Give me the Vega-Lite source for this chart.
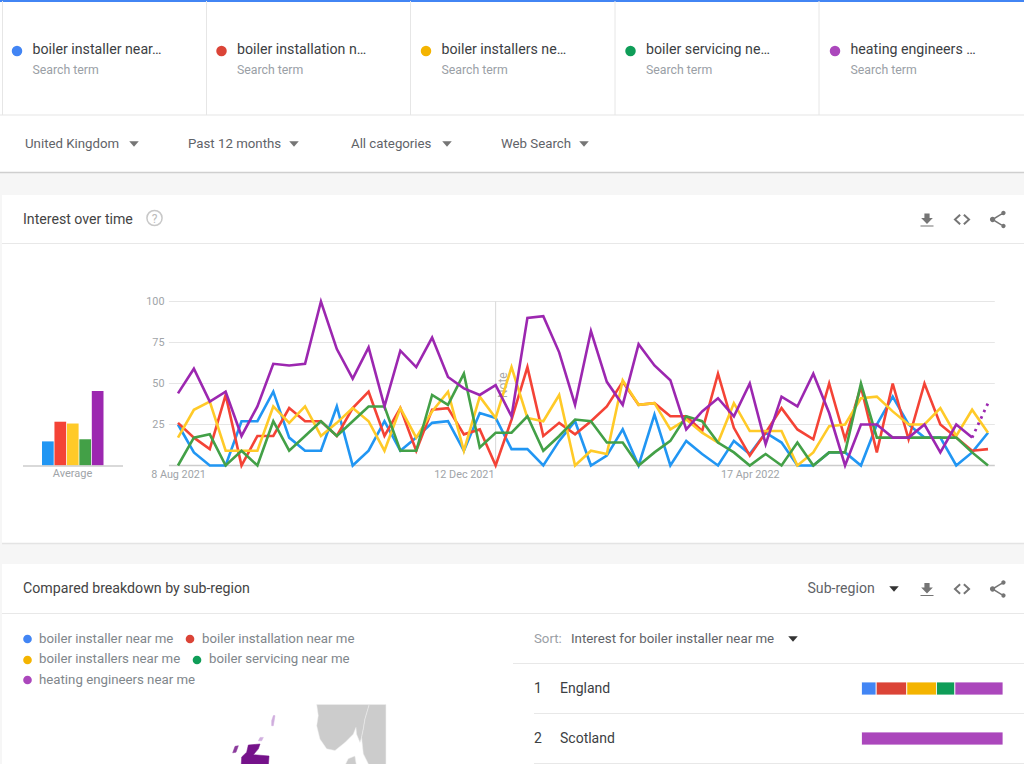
{
"$schema":"https://vega.github.io/schema/vega-lite/v6.json",
"width":1024,"height":764,"padding":0,"autosize":{"type":"none"},
"background":"#f6f6f6",
"config":{"view":{"stroke":null},"font":"Roboto","text":{"font":"Roboto"}},
"datasets":{
"one":[{"item":"page"}],
"terms":[
{"term":"boiler installer near me","short":"boiler installer near…"},
{"term":"boiler installation near me","short":"boiler installation n…"},
{"term":"boiler installers near me","short":"boiler installers ne…"},
{"term":"boiler servicing near me","short":"boiler servicing ne…"},
{"term":"heating engineers near me","short":"heating engineers …"}],
"avg":[
{"term":"boiler installer near me","average":14.7},
{"term":"boiler installation near me","average":26.7},
{"term":"boiler installers near me","average":25.6},
{"term":"boiler servicing near me","average":16},
{"term":"heating engineers near me","average":45.5}],
"regions":[
{"region":"England","rank":1,"term":"boiler installer near me","share":10.4},
{"region":"England","rank":2,"term":"boiler installation near me","share":21.6},
{"region":"England","rank":3,"term":"boiler installers near me","share":21},
{"region":"England","rank":4,"term":"boiler servicing near me","share":13},
{"region":"England","rank":5,"term":"heating engineers near me","share":34},
{"region":"Scotland","rank":5,"term":"heating engineers near me","share":100}],
"weeks":[
{"week":"2021-08-08","installer":25,"installation":26,"installers":17,"servicing":0,"heating":44},
{"week":"2021-08-15","installer":8,"installation":17,"installers":34,"servicing":17,"heating":59},
{"week":"2021-08-22","installer":0,"installation":10,"installers":39,"servicing":19,"heating":39},
{"week":"2021-08-29","installer":0,"installation":43,"installers":9,"servicing":0,"heating":45},
{"week":"2021-09-05","installer":27,"installation":0,"installers":9,"servicing":9,"heating":18},
{"week":"2021-09-12","installer":27,"installation":18,"installers":9,"servicing":0,"heating":36},
{"week":"2021-09-19","installer":45,"installation":18,"installers":36,"servicing":27,"heating":62},
{"week":"2021-09-26","installer":17,"installation":35,"installers":26,"servicing":9,"heating":61},
{"week":"2021-10-03","installer":9,"installation":27,"installers":36,"servicing":18,"heating":62},
{"week":"2021-10-10","installer":9,"installation":27,"installers":18,"servicing":27,"heating":100},
{"week":"2021-10-17","installer":36,"installation":18,"installers":26,"servicing":18,"heating":71},
{"week":"2021-10-24","installer":0,"installation":35,"installers":35,"servicing":27,"heating":53},
{"week":"2021-10-31","installer":9,"installation":45,"installers":27,"servicing":36,"heating":72},
{"week":"2021-11-07","installer":27,"installation":18,"installers":9,"servicing":36,"heating":36},
{"week":"2021-11-14","installer":9,"installation":35,"installers":35,"servicing":9,"heating":70},
{"week":"2021-11-21","installer":17,"installation":9,"installers":17,"servicing":9,"heating":60},
{"week":"2021-11-28","installer":26,"installation":34,"installers":33,"servicing":43,"heating":78},
{"week":"2021-12-05","installer":27,"installation":35,"installers":45,"servicing":37,"heating":54},
{"week":"2021-12-12","installer":9,"installation":19,"installers":9,"servicing":56,"heating":47},
{"week":"2021-12-19","installer":32,"installation":22,"installers":42,"servicing":11,"heating":43},
{"week":"2021-12-26","installer":29,"installation":0,"installers":29,"servicing":20,"heating":49},
{"week":"2022-01-02","installer":10,"installation":28,"installers":60,"servicing":20,"heating":30},
{"week":"2022-01-09","installer":10,"installation":60,"installers":29,"servicing":30,"heating":90},
{"week":"2022-01-16","installer":0,"installation":18,"installers":27,"servicing":9,"heating":91},
{"week":"2022-01-23","installer":15,"installation":26,"installers":43,"servicing":18,"heating":69},
{"week":"2022-01-30","installer":27,"installation":19,"installers":0,"servicing":28,"heating":37},
{"week":"2022-02-06","installer":0,"installation":27,"installers":9,"servicing":27,"heating":82},
{"week":"2022-02-13","installer":6,"installation":36,"installers":7,"servicing":14,"heating":51},
{"week":"2022-02-20","installer":22,"installation":51,"installers":52,"servicing":14,"heating":37},
{"week":"2022-02-27","installer":0,"installation":37,"installers":37,"servicing":0,"heating":74},
{"week":"2022-03-06","installer":31,"installation":38,"installers":38,"servicing":8,"heating":61},
{"week":"2022-03-13","installer":0,"installation":30,"installers":22,"servicing":15,"heating":52},
{"week":"2022-03-20","installer":15,"installation":30,"installers":28,"servicing":30,"heating":22},
{"week":"2022-03-27","installer":7,"installation":21,"installers":20,"servicing":27,"heating":33},
{"week":"2022-04-03","installer":0,"installation":56,"installers":14,"servicing":14,"heating":41},
{"week":"2022-04-10","installer":15,"installation":23,"installers":38,"servicing":8,"heating":30},
{"week":"2022-04-17","installer":7,"installation":6,"installers":21,"servicing":0,"heating":50},
{"week":"2022-04-24","installer":20,"installation":20,"installers":21,"servicing":7,"heating":13},
{"week":"2022-05-01","installer":14,"installation":35,"installers":21,"servicing":0,"heating":42},
{"week":"2022-05-08","installer":0,"installation":22,"installers":0,"servicing":14,"heating":36},
{"week":"2022-05-15","installer":0,"installation":16,"installers":8,"servicing":0,"heating":56},
{"week":"2022-05-22","installer":8,"installation":50,"installers":24,"servicing":8,"heating":32},
{"week":"2022-05-29","installer":8,"installation":16,"installers":25,"servicing":8,"heating":0},
{"week":"2022-06-05","installer":0,"installation":48,"installers":41,"servicing":50,"heating":25},
{"week":"2022-06-12","installer":25,"installation":8,"installers":42,"servicing":17,"heating":25},
{"week":"2022-06-19","installer":42,"installation":50,"installers":33,"servicing":17,"heating":17},
{"week":"2022-06-26","installer":25,"installation":16,"installers":25,"servicing":17,"heating":17},
{"week":"2022-07-03","installer":17,"installation":50,"installers":25,"servicing":17,"heating":25},
{"week":"2022-07-10","installer":17,"installation":25,"installers":35,"servicing":17,"heating":8},
{"week":"2022-07-17","installer":0,"installation":17,"installers":18,"servicing":17,"heating":25},
{"week":"2022-07-24","installer":8,"installation":9,"installers":34,"servicing":8,"heating":17},
{"week":"2022-07-31","installer":20,"installation":10,"installers":20,"servicing":0,"heating":38}]
},
"resolve":{"scale":{"x":"independent","y":"independent","color":"independent"},"axis":{"x":"independent","y":"independent"}},
"layer":[
{"data":{"name":"one"},"mark":{"type":"rect","color":"white"},"encoding":{"x":{"value":0},"x2":{"value":1024},"y":{"value":1},"y2":{"value":172}}},
{"data":{"name":"one"},"mark":{"type":"rect","color":"white"},"encoding":{"x":{"value":2},"x2":{"value":1024},"y":{"value":195},"y2":{"value":543}}},
{"data":{"name":"one"},"mark":{"type":"rect","color":"white"},"encoding":{"x":{"value":2},"x2":{"value":1024},"y":{"value":564},"y2":{"value":764}}},
{"data":{"name":"one"},"mark":{"type":"rule","color":"#4285f4","strokeWidth":2},"encoding":{"x":{"value":0},"x2":{"value":1024},"y":{"value":1}}},
{"data":{"name":"one"},"mark":{"type":"rule","color":"#eeeeee","strokeWidth":1.5},"encoding":{"x":{"value":0},"x2":{"value":1024},"y":{"value":115}}},
{"data":{"name":"one"},"mark":{"type":"rule","color":"#cfcfcf","strokeWidth":1.5},"encoding":{"x":{"value":0},"x2":{"value":1024},"y":{"value":172.5}}},
{"data":{"name":"one"},"mark":{"type":"rule","color":"#e8e8e8","strokeWidth":1},"encoding":{"x":{"value":2},"x2":{"value":1024},"y":{"value":243.5}}},
{"data":{"name":"one"},"mark":{"type":"rule","color":"#e4e4e4","strokeWidth":1.5},"encoding":{"x":{"value":2},"x2":{"value":1024},"y":{"value":543.5}}},
{"data":{"name":"one"},"mark":{"type":"rule","color":"#e8e8e8","strokeWidth":1},"encoding":{"x":{"value":2},"x2":{"value":1024},"y":{"value":613.5}}},
{"data":{"name":"one"},"mark":{"type":"rule","color":"#e8e8e8","strokeWidth":1},"encoding":{"x":{"value":513},"x2":{"value":1024},"y":{"value":663.5}}},
{"data":{"name":"one"},"mark":{"type":"rule","color":"#e8e8e8","strokeWidth":1},"encoding":{"x":{"value":534},"x2":{"value":1024},"y":{"value":713.5}}},
{"data":{"name":"one"},"mark":{"type":"rule","color":"#e8e8e8","strokeWidth":1},"encoding":{"x":{"value":534},"x2":{"value":1024},"y":{"value":763.5}}},
{"data":{"name":"one"},"mark":{"type":"rule","color":"#e6e6e6","strokeWidth":1},"encoding":{"x":{"value":2.5},"y":{"value":1},"y2":{"value":115}}},
{"data":{"name":"one"},"mark":{"type":"rule","color":"#e6e6e6","strokeWidth":1},"encoding":{"x":{"value":206.5},"y":{"value":1},"y2":{"value":115}}},
{"data":{"name":"one"},"mark":{"type":"rule","color":"#e6e6e6","strokeWidth":1},"encoding":{"x":{"value":410.5},"y":{"value":1},"y2":{"value":115}}},
{"data":{"name":"one"},"mark":{"type":"rule","color":"#e6e6e6","strokeWidth":1},"encoding":{"x":{"value":615},"y":{"value":1},"y2":{"value":115}}},
{"data":{"name":"one"},"mark":{"type":"rule","color":"#e6e6e6","strokeWidth":1},"encoding":{"x":{"value":819},"y":{"value":1},"y2":{"value":115}}},
{"data":{"name":"terms"},
 "encoding":{"x":{"field":"term","type":"nominal","axis":null,"sort":null,"scale":{"type":"point","range":[17,835],"padding":0}}},
 "layer":[
 {"mark":{"type":"point","filled":true,"opacity":1,"size":110},"encoding":{"y":{"value":51},"color":{"field":"term","type":"nominal","legend":null,"sort":null,"scale":{"range":["#4285f4","#db4437","#f4b400","#0f9d58","#ab47bc"]}}}},
 {"mark":{"type":"text","align":"left","baseline":"alphabetic","xOffset":15.5,"fontSize":14.2,"color":"#3c4043"},"encoding":{"y":{"value":54},"text":{"field":"short"}}},
 {"mark":{"type":"text","align":"left","baseline":"alphabetic","xOffset":15.5,"fontSize":12.3,"color":"#9aa0a6","text":"Search term"},"encoding":{"y":{"value":73.5}}}
 ]},
{"data":{"name":"one"},"mark":{"type":"text","align":"left","baseline":"alphabetic","fontSize":13.25,"color":"#5f6368","text":"United Kingdom"},"encoding":{"x":{"value":25},"y":{"value":148}}},
{"data":{"name":"one"},"mark":{"type":"text","align":"left","baseline":"alphabetic","fontSize":13.25,"color":"#5f6368","text":"Past 12 months"},"encoding":{"x":{"value":188},"y":{"value":148}}},
{"data":{"name":"one"},"mark":{"type":"text","align":"left","baseline":"alphabetic","fontSize":13.25,"color":"#5f6368","text":"All categories"},"encoding":{"x":{"value":351},"y":{"value":148}}},
{"data":{"name":"one"},"mark":{"type":"text","align":"left","baseline":"alphabetic","fontSize":13.25,"color":"#5f6368","text":"Web Search"},"encoding":{"x":{"value":501},"y":{"value":148}}},
{"data":{"name":"one"},"mark":{"type":"point","shape":"M-0.5,-0.28L0.5,-0.28L0,0.28Z","filled":true,"opacity":1,"strokeWidth":0,"size":361,"color":"#757575"},"encoding":{"x":{"value":134},"y":{"value":144}}},
{"data":{"name":"one"},"mark":{"type":"point","shape":"M-0.5,-0.28L0.5,-0.28L0,0.28Z","filled":true,"opacity":1,"strokeWidth":0,"size":361,"color":"#757575"},"encoding":{"x":{"value":294},"y":{"value":144}}},
{"data":{"name":"one"},"mark":{"type":"point","shape":"M-0.5,-0.28L0.5,-0.28L0,0.28Z","filled":true,"opacity":1,"strokeWidth":0,"size":361,"color":"#757575"},"encoding":{"x":{"value":447},"y":{"value":144}}},
{"data":{"name":"one"},"mark":{"type":"point","shape":"M-0.5,-0.28L0.5,-0.28L0,0.28Z","filled":true,"opacity":1,"strokeWidth":0,"size":361,"color":"#757575"},"encoding":{"x":{"value":584},"y":{"value":144}}},
{"data":{"name":"one"},"mark":{"type":"text","align":"left","baseline":"alphabetic","fontSize":14.15,"color":"#444444","text":"Interest over time"},"encoding":{"x":{"value":23},"y":{"value":224}}},
{"data":{"name":"one"},"mark":{"type":"point","filled":false,"opacity":1,"size":230,"color":"#c8c8c8","strokeWidth":1.5},"encoding":{"x":{"value":154.5},"y":{"value":218}}},
{"data":{"name":"one"},"mark":{"type":"text","align":"center","baseline":"middle","fontSize":12,"color":"#bbbbbb","text":"?"},"encoding":{"x":{"value":154.5},"y":{"value":218.5}}},
{"data":{"name":"one"},"mark":{"type":"point","shape":"M-0.2,-0.5H0.2V-0.15H0.45L0,0.3L-0.45,-0.15H-0.2Z M-0.5,0.42H0.5V0.5H-0.5Z","filled":true,"opacity":1,"strokeWidth":0,"size":676,"color":"#757575"},"encoding":{"x":{"value":927},"y":{"value":220}}},
{"data":{"name":"one"},"mark":{"type":"point","shape":"M-0.15,-0.32L-0.5,0L-0.15,0.32L-0.07,0.24L-0.33,0L-0.07,-0.24Z M0.15,-0.32L0.5,0L0.15,0.32L0.07,0.24L0.33,0L0.07,-0.24Z","filled":true,"opacity":1,"strokeWidth":0,"size":1156,"color":"#757575"},"encoding":{"x":{"value":962},"y":{"value":219.5}}},
{"data":{"name":"one"},"mark":{"type":"point","shape":"M0.35,-0.56A0.14,0.14 0 1 1 0.35,-0.28A0.14,0.14 0 1 1 0.35,-0.56Z M0.35,0.28A0.14,0.14 0 1 1 0.35,0.56A0.14,0.14 0 1 1 0.35,0.28Z M-0.35,-0.17A0.17,0.17 0 1 1 -0.35,0.17A0.17,0.17 0 1 1 -0.35,-0.17Z M-0.37,-0.05L0.33,-0.46L0.37,-0.38L-0.33,0.05Z M-0.33,-0.05L0.37,0.38L0.33,0.46L-0.37,0.05Z","filled":true,"opacity":1,"strokeWidth":0,"size":961,"color":"#757575"},"encoding":{"x":{"value":998},"y":{"value":219.5}}},
{"data":{"name":"one"},"mark":{"type":"point","shape":"M-0.2,-0.5H0.2V-0.15H0.45L0,0.3L-0.45,-0.15H-0.2Z M-0.5,0.42H0.5V0.5H-0.5Z","filled":true,"opacity":1,"strokeWidth":0,"size":676,"color":"#757575"},"encoding":{"x":{"value":927},"y":{"value":589.5}}},
{"data":{"name":"one"},"mark":{"type":"point","shape":"M-0.15,-0.32L-0.5,0L-0.15,0.32L-0.07,0.24L-0.33,0L-0.07,-0.24Z M0.15,-0.32L0.5,0L0.15,0.32L0.07,0.24L0.33,0L0.07,-0.24Z","filled":true,"opacity":1,"strokeWidth":0,"size":1156,"color":"#757575"},"encoding":{"x":{"value":962},"y":{"value":589}}},
{"data":{"name":"one"},"mark":{"type":"point","shape":"M0.35,-0.56A0.14,0.14 0 1 1 0.35,-0.28A0.14,0.14 0 1 1 0.35,-0.56Z M0.35,0.28A0.14,0.14 0 1 1 0.35,0.56A0.14,0.14 0 1 1 0.35,0.28Z M-0.35,-0.17A0.17,0.17 0 1 1 -0.35,0.17A0.17,0.17 0 1 1 -0.35,-0.17Z M-0.37,-0.05L0.33,-0.46L0.37,-0.38L-0.33,0.05Z M-0.33,-0.05L0.37,0.38L0.33,0.46L-0.37,0.05Z","filled":true,"opacity":1,"strokeWidth":0,"size":961,"color":"#757575"},"encoding":{"x":{"value":998},"y":{"value":589}}},
{"data":{"name":"weeks"},
 "encoding":{
  "x":{"field":"week","type":"temporal","title":null,"scale":{"type":"utc","domain":[{"year":2021,"month":8,"date":8,"utc":true},{"year":2022,"month":7,"date":31,"utc":true}],"range":[178,988]},
   "axis":{"orient":"bottom","offset":-298,"zindex":1,"domain":false,"ticks":false,"grid":false,"title":null,"format":"%-d %b %Y","labelFont":"Roboto","labelFontSize":10.8,"labelColor":"#a0a4a8","labelPadding":2,"labelOverlap":false,"labelFlush":false,
    "values":[{"year":2021,"month":8,"date":8,"utc":true},{"year":2021,"month":12,"date":12,"utc":true},{"year":2022,"month":4,"date":17,"utc":true}]}},
  "y":{"type":"quantitative","title":null,"scale":{"domain":[0,100],"range":[465.5,301.5]},
   "axis":{"orient":"left","offset":-164,"zindex":1,"domain":false,"ticks":false,"grid":false,"title":null,"values":[25,50,75,100],"labelFont":"Roboto","labelFontSize":10.8,"labelColor":"#a0a4a8","labelPadding":0}}
 },
 "layer":[
 {"data":{"values":[{"level":25,"from":"2021-08-04","to":"2022-08-03"},{"level":50,"from":"2021-08-04","to":"2022-08-03"},{"level":75,"from":"2021-08-04","to":"2022-08-03"},{"level":100,"from":"2021-08-04","to":"2022-08-03"}]},
  "mark":{"type":"rule","color":"#e6e6e6","strokeWidth":1},
  "encoding":{"x":{"field":"from","type":"temporal"},"x2":{"field":"to"},"y":{"field":"level","type":"quantitative"}}},
 {"data":{"values":[{"level":0,"from":"2021-08-04","to":"2022-08-03"}]},
  "mark":{"type":"rule","color":"#cccccc","strokeWidth":1.5},
  "encoding":{"x":{"field":"from","type":"temporal"},"x2":{"field":"to"},"y":{"field":"level","type":"quantitative"}}},
 {"data":{"values":[{"note":"2021-12-26","low":0,"high":100}]},
  "mark":{"type":"rule","color":"#d8d8d8","strokeWidth":1},
  "encoding":{"x":{"field":"note","type":"temporal"},"y":{"field":"low","type":"quantitative"},"y2":{"field":"high"}}},
 {"data":{"values":[{"note":"2021-12-26","at":49,"label":"Note"}]},
  "mark":{"type":"text","angle":270,"align":"center","baseline":"middle","xOffset":7,"fontSize":12,"color":"#a8a8a8"},
  "encoding":{"x":{"field":"note","type":"temporal"},"y":{"field":"at","type":"quantitative"},"text":{"field":"label"}}},
 {"transform":[{"fold":["installer","installation","installers","servicing","heating"]},{"filter":"datum.key !== 'heating' || time(datum.week) < datetime(2022,6,28)"}],
  "mark":{"type":"line","strokeWidth":2.6,"strokeJoin":"miter","interpolate":"linear"},
  "encoding":{"y":{"field":"value","type":"quantitative"},
   "color":{"field":"key","type":"nominal","legend":null,"scale":{"domain":["installer","installation","installers","servicing","heating"],"range":["#2196f3","#f44336","#ffca28","#43a047","#9c27b0"]}}}},
 {"transform":[{"fold":["heating"]},{"filter":"time(datum.week) > datetime(2022,6,20)"}],
  "mark":{"type":"line","strokeWidth":2.8,"strokeDash":[2.5,4.5],"color":"#9c27b0"},
  "encoding":{"y":{"field":"value","type":"quantitative"}}}
 ]},
{"data":{"name":"avg"},
 "mark":{"type":"bar"},
 "encoding":{
  "x":{"field":"term","type":"nominal","axis":null,"sort":null,"scale":{"type":"band","range":[42,103.5],"paddingInner":0.06,"paddingOuter":0}},
  "y":{"field":"average","type":"quantitative","axis":null,"scale":{"domain":[0,100],"range":[465.5,301.5]}},
  "color":{"field":"term","type":"nominal","legend":null,"sort":null,"scale":{"range":["#2196f3","#f44336","#ffca28","#43a047","#9c27b0"]}}}},
{"data":{"name":"one"},"mark":{"type":"rule","color":"#cccccc","strokeWidth":1.5},"encoding":{"x":{"value":23},"x2":{"value":123},"y":{"value":466}}},
{"data":{"name":"one"},"mark":{"type":"text","align":"center","baseline":"middle","fontSize":11,"color":"#a0a4a8","text":"Average"},"encoding":{"x":{"value":72.5},"y":{"value":474}}},
{"data":{"name":"one"},"mark":{"type":"text","align":"left","baseline":"alphabetic","fontSize":14.2,"color":"#444444","text":"Compared breakdown by sub-region"},"encoding":{"x":{"value":23},"y":{"value":593}}},
{"data":{"name":"one"},"mark":{"type":"text","align":"left","baseline":"alphabetic","fontSize":14.1,"color":"#5f6368","text":"Sub-region"},"encoding":{"x":{"value":807.5},"y":{"value":593}}},
{"data":{"name":"one"},"mark":{"type":"point","shape":"M-0.5,-0.28L0.5,-0.28L0,0.28Z","filled":true,"opacity":1,"strokeWidth":0,"size":361,"color":"#333333"},"encoding":{"x":{"value":894},"y":{"value":589}}},
{"data":{"name":"one"},"mark":{"type":"point","filled":true,"opacity":1,"size":75,"color":"#4285f4"},"encoding":{"x":{"value":27.5},"y":{"value":639}}},
{"data":{"name":"one"},"mark":{"type":"point","filled":true,"opacity":1,"size":75,"color":"#db4437"},"encoding":{"x":{"value":190},"y":{"value":639}}},
{"data":{"name":"one"},"mark":{"type":"point","filled":true,"opacity":1,"size":75,"color":"#f4b400"},"encoding":{"x":{"value":27.5},"y":{"value":660}}},
{"data":{"name":"one"},"mark":{"type":"point","filled":true,"opacity":1,"size":75,"color":"#0f9d58"},"encoding":{"x":{"value":197},"y":{"value":660}}},
{"data":{"name":"one"},"mark":{"type":"point","filled":true,"opacity":1,"size":75,"color":"#ab47bc"},"encoding":{"x":{"value":27.5},"y":{"value":680}}},
{"data":{"name":"one"},"mark":{"type":"text","align":"left","baseline":"alphabetic","fontSize":13.25,"color":"#80868b","text":"boiler installer near me"},"encoding":{"x":{"value":39},"y":{"value":643}}},
{"data":{"name":"one"},"mark":{"type":"text","align":"left","baseline":"alphabetic","fontSize":13.25,"color":"#80868b","text":"boiler installation near me"},"encoding":{"x":{"value":202},"y":{"value":643}}},
{"data":{"name":"one"},"mark":{"type":"text","align":"left","baseline":"alphabetic","fontSize":13.25,"color":"#80868b","text":"boiler installers near me"},"encoding":{"x":{"value":39},"y":{"value":663}}},
{"data":{"name":"one"},"mark":{"type":"text","align":"left","baseline":"alphabetic","fontSize":13.25,"color":"#80868b","text":"boiler servicing near me"},"encoding":{"x":{"value":209},"y":{"value":663}}},
{"data":{"name":"one"},"mark":{"type":"text","align":"left","baseline":"alphabetic","fontSize":13.25,"color":"#80868b","text":"heating engineers near me"},"encoding":{"x":{"value":39},"y":{"value":684}}},
{"data":{"name":"one"},"mark":{"type":"text","align":"left","baseline":"alphabetic","fontSize":13.25,"color":"#9aa0a6","text":"Sort:"},"encoding":{"x":{"value":534},"y":{"value":643}}},
{"data":{"name":"one"},"mark":{"type":"text","align":"left","baseline":"alphabetic","fontSize":13.3,"color":"#5f6368","text":"Interest for boiler installer near me"},"encoding":{"x":{"value":571},"y":{"value":643}}},
{"data":{"name":"one"},"mark":{"type":"point","shape":"M-0.5,-0.28L0.5,-0.28L0,0.28Z","filled":true,"opacity":1,"strokeWidth":0,"size":361,"color":"#333333"},"encoding":{"x":{"value":793},"y":{"value":639}}},
{"data":{"values":[{"region":"England"},{"region":"Scotland"}]},
 "encoding":{"y":{"field":"region","type":"nominal","axis":null,"scale":{"type":"band","domain":["England","Scotland"],"range":[663.5,763.5],"padding":0}}},
 "layer":[
 {"mark":{"type":"text","align":"left","baseline":"middle","fontSize":14,"color":"#3c4043"},"encoding":{"x":{"value":560},"text":{"field":"region"}}},
 {"transform":[{"window":[{"op":"row_number","as":"place"}]}],"mark":{"type":"text","align":"left","baseline":"middle","fontSize":14,"color":"#3c4043"},"encoding":{"x":{"value":534},"text":{"field":"place"}}}
 ]},
{"data":{"name":"regions"},
 "mark":{"type":"bar","size":13,"stroke":"white","strokeWidth":0.8},
 "encoding":{
  "x":{"field":"share","type":"quantitative","stack":"zero","axis":null,"scale":{"domain":[0,100],"range":[861.5,1003]}},
  "y":{"field":"region","type":"nominal","axis":null,"scale":{"type":"band","domain":["England","Scotland"],"range":[663.5,763.5]}},
  "order":{"field":"rank","type":"ordinal"},
  "color":{"field":"term","type":"nominal","legend":null,"scale":{"domain":["boiler installer near me","boiler installation near me","boiler installers near me","boiler servicing near me","heating engineers near me"],"range":["#4285f4","#db4437","#f4b400","#0f9d58","#ab47bc"]}}}},
{"data":{"values":{"type":"FeatureCollection","features":[
 {"type":"Feature","properties":{"name":"Norway","tone":"land"},"geometry":{"type":"Polygon","coordinates":[[[3.74,60.94],[9.75,60.94],[9.26,60.12],[9.07,59.54],[8.87,59.06],[8.69,58.76],[8.3,59.25],[8.23,59.64],[7.92,59.25],[6.97,58.76],[5.83,58.28],[4.88,58.38],[4.11,58.96],[3.74,59.74],[3.92,60.32],[3.74,60.94]]]}},
 {"type":"Feature","properties":{"name":"Sweden","tone":"land"},"geometry":{"type":"Polygon","coordinates":[[[9.75,60.94],[11.66,60.94],[11.66,57.3],[9.8,57.3],[9.07,58.09],[8.87,59.06],[9.07,59.54],[9.26,60.12],[9.75,60.94]]]}},
 {"type":"Feature","properties":{"name":"Denmark","tone":"land"},"geometry":{"type":"Polygon","coordinates":[[[7.35,57.79],[8.11,57.95],[8.3,57.3],[6.9,57.3],[7.35,57.79]]]}},
 {"type":"Feature","properties":{"name":"Scottish mainland","tone":"high"},"geometry":{"type":"Polygon","coordinates":[[[-4.08,58.61],[-2.74,58.67],[-2.93,58.38],[-3.5,58.03],[-1.71,57.95],[-1.8,57.3],[-4.9,57.3],[-4.84,57.89],[-4.27,58.18],[-4.08,58.61]]]}},
 {"type":"Feature","properties":{"name":"Hebrides","tone":"mid"},"geometry":{"type":"Polygon","coordinates":[[[-5.6,58.53],[-5.22,58.57],[-5.49,58.18],[-5.87,58.14],[-5.6,58.53]]]}},
 {"type":"Feature","properties":{"name":"Orkney","tone":"low"},"geometry":{"type":"Polygon","coordinates":[[[-2.74,59.06],[-2.36,59.06],[-2.55,58.86],[-2.93,58.86],[-2.74,59.06]]]}},
 {"type":"Feature","properties":{"name":"Shetland","tone":"low"},"geometry":{"type":"Polygon","coordinates":[[[-1.22,60.32],[-1.03,60.32],[-1.22,59.74],[-1.41,59.74],[-1.41,60.03],[-1.22,60.32]]]}}
 ]},"format":{"type":"json","property":"features"}},
 "projection":{"type":"mercator","scale":501,"translate":[284,1381]},
 "mark":{"type":"geoshape","strokeWidth":0.5},
 "encoding":{
  "color":{"field":"properties.tone","type":"nominal","legend":null,"scale":{"domain":["land","high","mid","low"],"range":["#cccccc","#75128a","#8b3a9c","#d0aede"]}},
  "stroke":{"field":"properties.tone","type":"nominal","legend":null,"scale":{"domain":["land","high","mid","low"],"range":["#eeeeee","#75128a","#8b3a9c","#d0aede"]}}}}
]
}
